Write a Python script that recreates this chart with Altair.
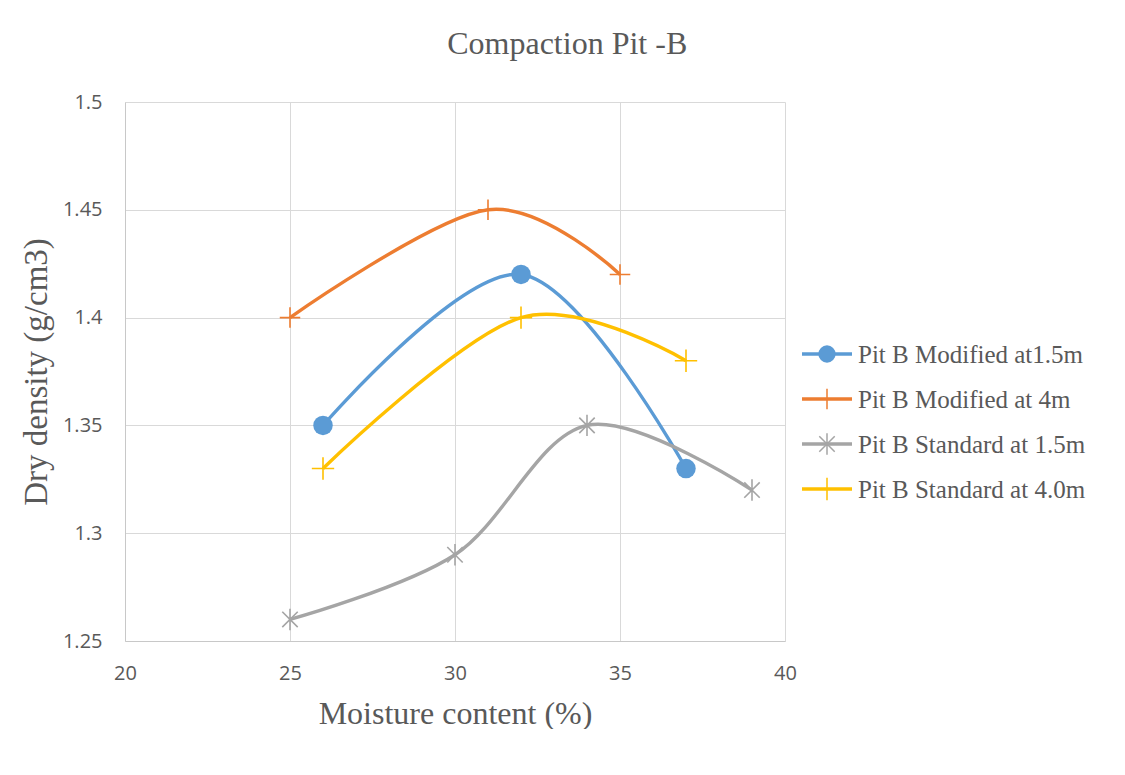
import altair as alt
import pandas as pd

# Compaction test results for Pit B
series_names = [
    "Pit B Modified at1.5m",
    "Pit B Modified at 4m",
    "Pit B Standard at 1.5m",
    "Pit B Standard at 4.0m",
]
series_colors = ["#5B9BD5", "#ED7D31", "#A5A5A5", "#FFC000"]

mod_15_moisture = [26, 32, 37]
mod_15_density = [1.35, 1.42, 1.33]

mod_4_moisture = [25, 31, 35]
mod_4_density = [1.40, 1.45, 1.42]

std_15_moisture = [25, 30, 34, 39]
std_15_density = [1.26, 1.29, 1.35, 1.32]

std_4_moisture = [26, 32, 37]
std_4_density = [1.33, 1.40, 1.38]

x_ticks = [20, 25, 30, 35, 40]
y_ticks = [1.25, 1.3, 1.35, 1.4, 1.45, 1.5]

# marker glyphs (unit-square SVG paths)
PLUS = "M-1,0L1,0M0,-1L0,1"
STAR = "M0,-1L0,1M-0.72,-0.72L0.72,0.72M-0.72,0.72L0.72,-0.72"

rows = []
for name, xs, ys in [
    (series_names[0], mod_15_moisture, mod_15_density),
    (series_names[1], mod_4_moisture, mod_4_density),
    (series_names[2], std_15_moisture, std_15_density),
    (series_names[3], std_4_moisture, std_4_density),
]:
    for i, (xv, yv) in enumerate(zip(xs, ys)):
        rows.append({"series": name, "moisture": xv, "density": yv, "order": i})
df = pd.DataFrame(rows)

TEXT = "#595959"
SERIF = "Liberation Serif"
SANS = "Open Sans"

color = alt.Color(
    "series:N",
    scale=alt.Scale(domain=series_names, range=series_colors),
    legend=None,
)
x_enc = alt.X(
    "moisture:Q",
    scale=alt.Scale(domain=[20, 40], nice=False),
    axis=alt.Axis(
        values=x_ticks,
        title="Moisture content (%)",
        titleFont=SERIF,
        titleFontSize=32,
        titleFontWeight="normal",
        titleColor=TEXT,
        titlePadding=15,
        labelFont=SANS,
        labelFontSize=20,
        labelColor=TEXT,
        labelPadding=22,
        labelFlush=False,
        ticks=False,
        domainColor="#C8C8C8",
        gridColor="#D9D9D9",
    ),
)
y_enc = alt.Y(
    "density:Q",
    scale=alt.Scale(domain=[1.25, 1.5], nice=False, zero=False),
    axis=alt.Axis(
        values=y_ticks,
        format="~g",
        title="Dry density (g/cm3)",
        titleFont=SERIF,
        titleFontSize=33,
        titleFontWeight="normal",
        titleColor=TEXT,
        titlePadding=9,
        labelFont=SANS,
        labelFontSize=20,
        labelColor=TEXT,
        labelPadding=23,
        labelAlign="right",
        labelFlush=False,
        ticks=False,
        domainColor="#C8C8C8",
        gridColor="#D9D9D9",
    ),
)

base = alt.Chart(df)

lines = base.mark_line(interpolate="cardinal", strokeWidth=3.4).encode(
    x=x_enc, y=y_enc, color=color, order="order:Q"
)

circles = base.transform_filter(
    alt.datum.series == series_names[0]
).mark_point(filled=True, opacity=1, shape="circle", size=380).encode(
    x="moisture:Q", y="density:Q", color=color
)

glyphs = base.transform_filter(
    alt.datum.series != series_names[0]
).mark_point(filled=False, opacity=1, strokeWidth=1.6).encode(
    x="moisture:Q",
    y="density:Q",
    color=color,
    shape=alt.Shape(
        "series:N",
        scale=alt.Scale(domain=series_names[1:], range=[PLUS, STAR, PLUS]),
        legend=None,
    ),
    size=alt.Size(
        "series:N",
        scale=alt.Scale(domain=series_names[1:], range=[420, 500, 420]),
        legend=None,
    ),
)

main = alt.layer(lines, circles, glyphs).properties(width=660, height=539)

# legend panel: one row per series, line sample with its marker and label
LEG_W = 312
leg_dom = [0, LEG_W / 50]
leg_df = pd.DataFrame(
    {
        "series": series_names,
        "row": [5.6, 6.6, 7.6, 8.6],
    }
)
lx = alt.X("x0:Q", scale=alt.Scale(domain=leg_dom), axis=None)
ly = alt.Y("row:Q", scale=alt.Scale(domain=[0, 539 / 45], reverse=True), axis=None)
leg_base = alt.Chart(leg_df).transform_calculate(x0="0", x1="1", xm="0.5", xt="1.12")

leg_line = leg_base.mark_rule(strokeWidth=3.4).encode(
    x=lx, x2="x1:Q", y=ly, color=color
)
leg_circle = leg_base.transform_filter(
    alt.datum.series == series_names[0]
).mark_point(filled=True, opacity=1, shape="circle", size=300).encode(
    x=alt.X("xm:Q", scale=alt.Scale(domain=leg_dom), axis=None), y=ly, color=color
)
leg_glyph = leg_base.transform_filter(
    alt.datum.series != series_names[0]
).mark_point(filled=False, opacity=1, strokeWidth=1.5).encode(
    x=alt.X("xm:Q", scale=alt.Scale(domain=leg_dom), axis=None),
    y=ly,
    color=color,
    shape=alt.Shape(
        "series:N",
        scale=alt.Scale(domain=series_names[1:], range=[PLUS, STAR, PLUS]),
        legend=None,
    ),
    size=alt.Size(
        "series:N",
        scale=alt.Scale(domain=series_names[1:], range=[150, 260, 230]),
        legend=None,
    ),
)
leg_text = leg_base.mark_text(
    align="left", baseline="middle", font=SERIF, fontSize=25, color=TEXT, dy=1
).encode(
    x=alt.X("xt:Q", scale=alt.Scale(domain=leg_dom), axis=None), y=ly, text="series:N"
)

legend_panel = alt.layer(leg_line, leg_circle, leg_glyph, leg_text).properties(
    width=LEG_W, height=539
)

chart = (
    alt.hconcat(main, legend_panel, spacing=3)
    .properties(
        title=alt.Title(
            "Compaction Pit -B",
            font=SERIF,
            fontSize=32,
            fontWeight="normal",
            color=TEXT,
            anchor="middle",
            offset=31,
        ),
        padding={"left": 20, "top": 28, "right": 0, "bottom": 0},
        background="white",
    )
    .configure_view(stroke=None)
)

chart.save("out.html", embed_options={"renderer": "svg", "actions": False})
